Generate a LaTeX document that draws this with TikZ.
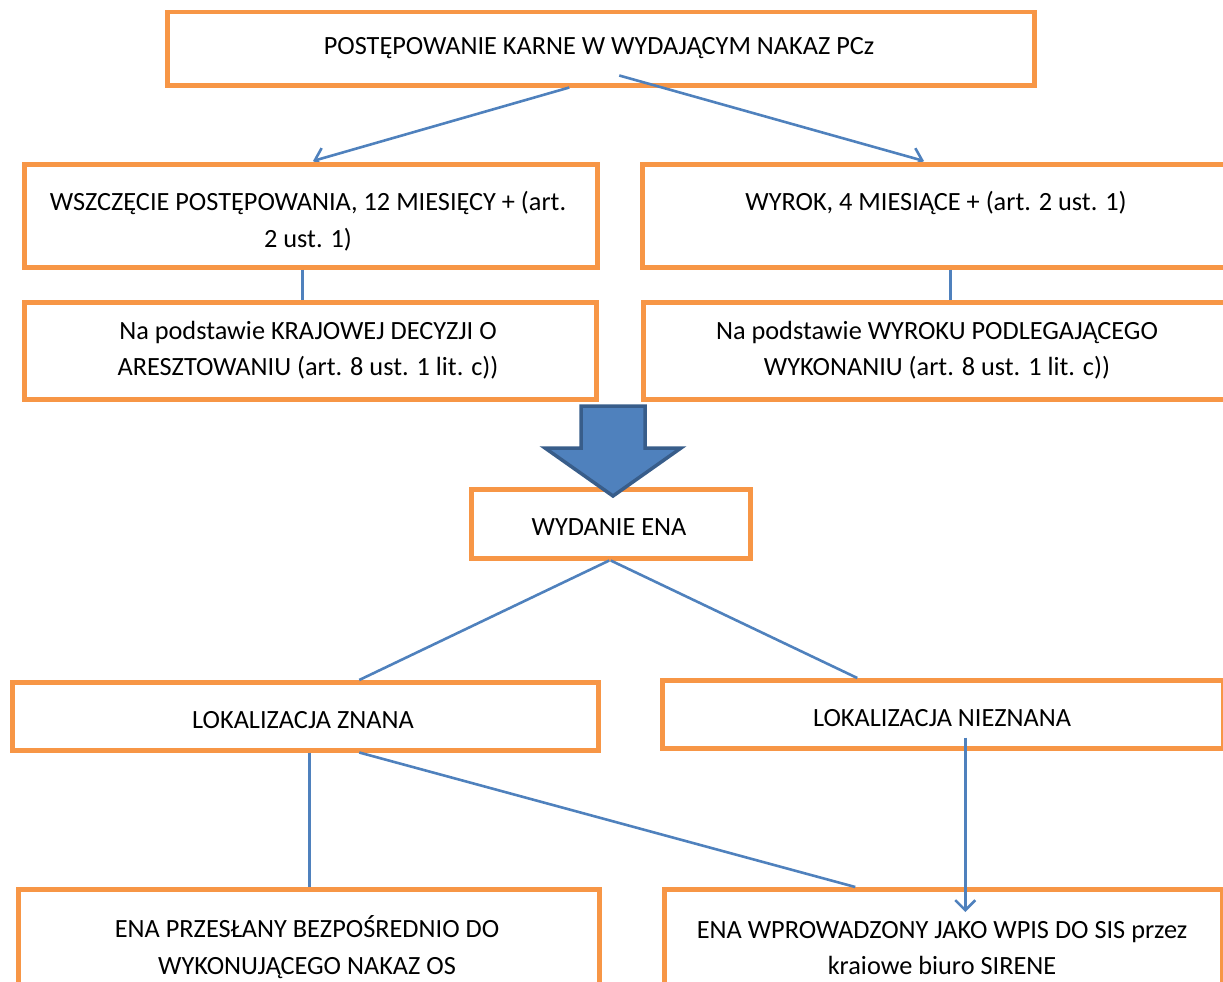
\documentclass[tikz,border=0pt]{standalone}
\usepackage{fontspec}
\setmainfont{Carlito}
\usetikzlibrary{arrows.meta}
\definecolor{boxorange}{HTML}{F79646}
\definecolor{lineblue}{HTML}{4F81BD}
\definecolor{arrowborder}{HTML}{385D8A}
\begin{document}
\begin{tikzpicture}[x=1pt,y=-1pt,
  box/.style={draw=boxorange, line width=4.5pt, fill=white, anchor=north west, inner sep=0pt},
  txt/.style={font=\fontsize{26.3}{36.5}\selectfont, align=center, inner sep=0pt, text=black},
  conn/.style={draw=lineblue, line width=2.6pt},
  barb/.style={-{Straight Barb[length=10pt,width=20pt]}}]
\useasboundingbox (0,0) rectangle (1223,982);
% top box and its connectors (drawn beneath the next boxes)
\node[box, minimum width=867pt, minimum height=73pt] (top) at (165,10) {};
\coordinate (aN) at (308.5,162);
\coordinate (bN) at (950,162);
\draw[conn,barb] ([xshift=-31.5pt]top.south) -- ([xshift=4.5pt,yshift=1pt]aN);
\draw[conn,barb] ([xshift=18.5pt,yshift=12pt]top.south) -- ([xshift=-26pt,yshift=1pt]bN);
% boxes
\node[box, minimum width=573pt, minimum height=103pt] (A) at (22,162) {};
\node[box, minimum width=620pt, minimum height=103pt] (B) at (640,162) {};
\node[box, minimum width=572pt, minimum height=97pt] (C) at (22,300) {};
\node[box, minimum width=620pt, minimum height=97pt] (D) at (641,300) {};
\node[box, minimum width=279pt, minimum height=69pt] (E) at (469,487) {};
\node[box, minimum width=586pt, minimum height=68pt] (F) at (10,680) {};
\node[box, minimum width=561pt, minimum height=68pt] (G) at (660,678) {};
\node[box, minimum width=581pt, minimum height=120pt] (H) at (16,887) {};
\node[box, minimum width=558pt, minimum height=120pt] (I) at (662,887) {};
% texts
\node[txt] (tT) at (599,48) {POSTĘPOWANIE KARNE W WYDAJĄCYM NAKAZ PCz};
\node[txt] (tA) at (308,221) {WSZCZĘCIE POSTĘPOWANIA, 12 MIESIĘCY + (art.\\2 ust. 1)};
\node[txt] (tB) at (936,203) {WYROK, 4 MIESIĄCE + (art. 2 ust. 1)};
\node[txt] (tC) at (308,350) {Na podstawie KRAJOWEJ DECYZJI O\\ARESZTOWANIU (art. 8 ust. 1 lit. c))};
\node[txt] (tD) at (937,350) {Na podstawie WYROKU PODLEGAJĄCEGO\\WYKONANIU (art. 8 ust. 1 lit. c))};
\node[txt] (tE) at (609,527) {WYDANIE ENA};
\node[txt] (tF) at (303,720) {LOKALIZACJA ZNANA};
\node[txt] (tG) at (942,718) {LOKALIZACJA NIEZNANA};
\node[txt] (tH) at (307,947) {ENA PRZESŁANY BEZPOŚREDNIO DO\\WYKONUJĄCEGO NAKAZ OS};
\node[txt] (tI) at (942,948) {ENA WPROWADZONY JAKO WPIS DO SIS przez\\kraiowe biuro SIRENE};
% connectors
\draw[conn] ([xshift=-8.5pt]A.south) -- ([xshift=-8pt]C.north);
\draw[conn] ([xshift=-2pt]B.south) -- ([xshift=-3pt]D.north);
\draw[conn] ([xshift=-1.5pt]E.south) -- ([xshift=54pt]F.north);
\draw[conn] (E.south) -- ([xshift=-85.5pt]G.north);
\draw[conn] ([xshift=4pt]F.south) -- ([xshift=0.5pt]H.north);
\draw[conn] ([xshift=54pt]F.south) -- ([xshift=-88pt]I.north);
\draw[conn,barb] ([xshift=22.5pt,yshift=13pt]G.south) -- ([xshift=22pt,yshift=-25pt]I.north);
% big arrow
\filldraw[fill=lineblue, draw=arrowborder, line width=3.5pt, line join=miter]
  (581,406) -- (645,406) -- (645,448) -- (681,448) -- (613,496) -- (545,448) -- (581,448) -- cycle;
\end{tikzpicture}
\end{document}
